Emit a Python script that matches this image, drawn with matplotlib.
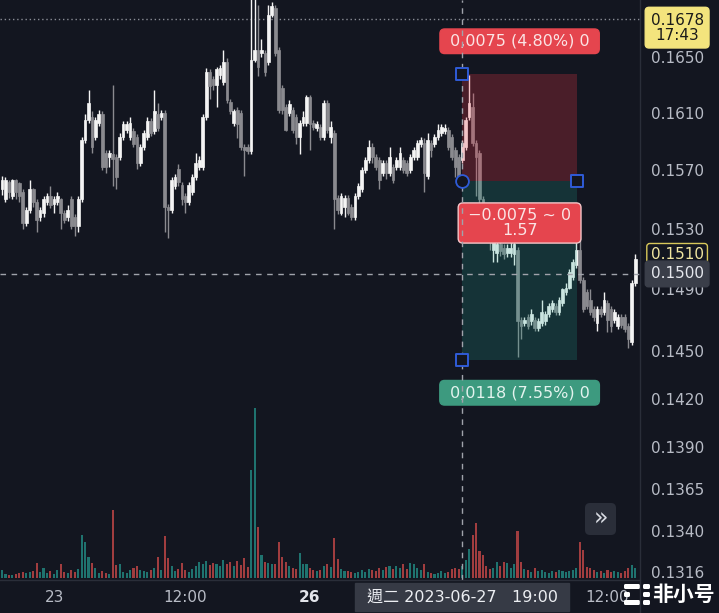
import matplotlib
matplotlib.use('Agg')
import matplotlib.pyplot as plt
from matplotlib.patches import FancyBboxPatch
from matplotlib.lines import Line2D
from matplotlib.markers import MarkerStyle
from matplotlib.ticker import FixedLocator, FixedFormatter, NullLocator, NullFormatter
from matplotlib.colors import to_rgba
import numpy as np

plt.rcParams['font.family'] = ['DejaVu Sans', 'Noto Sans CJK TC']

# ---- hourly OHLC ----
opens = [
    .1557, .1550, .1562, .1552, .1563, .1561, .1555, .1534, .1543, .1557,
    .1548, .1538, .1541, .1548, .1552, .1547, .1548, .1550, .1541, .1538,
    .1550, .1538, .1532, .1550, .1591, .1605, .1607, .1593, .1603, .1609,
    .1582, .1579, .1581, .1579, .1579, .1593, .1598, .1593, .1597, .1593,
    .1575, .1586, .1593, .1604, .1597, .1609, .1607, .1610, .1545, .1543,
    .1559, .1571, .1560, .1552, .1548, .1555, .1565, .1572, .1572, .1607,
    .1639, .1634, .1630, .1637, .1632, .1646, .1618, .1603, .1612, .1610,
    .1586, .1586, .1583, .1648, .1655, .1653, .1653, .1646, .1681, .1686,
    .1655, .1628, .1614, .1610, .1612, .1607, .1593, .1603, .1603, .1621,
    .1603, .1599, .1600, .1593, .1617, .1593, .1596, .1551, .1541, .1545,
    .1551, .1545, .1538, .1552, .1557, .1570, .1577, .1586, .1579, .1577,
    .1568, .1575, .1568, .1572, .1572, .1572, .1577, .1575, .1570, .1579,
    .1579, .1588, .1589, .1566, .1589, .1588, .1593, .1596, .1597, .1598,
    .1593, .1584, .1579, .1577, .1586, .1607, .1614, .1589, .1582, .1550,
    .1541, .1531, .1516, .1514, .1520, .1517, .1514, .1514, .1513, .1516,
    .1470, .1468, .1472, .1469, .1470, .1465, .1468, .1469, .1474, .1477,
    .1479, .1475, .1481, .1488, .1491, .1498, .1506, .1516, .1496, .1488,
    .1483, .1477, .1468, .1477, .1475, .1481, .1477, .1470, .1466, .1472,
    .1472, .1466, .1456, .1494]
highs = [
    .1566, .1565, .1563, .1564, .1564, .1562, .1557, .1545, .1563, .1558,
    .1550, .1545, .1552, .1554, .1559, .1552, .1555, .1551, .1543, .1546,
    .1552, .1540, .1552, .1593, .1609, .1626, .1611, .1607, .1612, .1611,
    .1584, .1584, .1630, .1581, .1596, .1604, .1604, .1607, .1599, .1595,
    .1588, .1598, .1607, .1606, .1626, .1617, .1612, .1612, .1547, .1565,
    .1567, .1574, .1562, .1554, .1562, .1567, .1582, .1580, .1609, .1642,
    .1641, .1636, .1643, .1644, .1655, .1649, .1620, .1613, .1614, .1612,
    .1588, .1588, .1702, .1698, .1688, .1663, .1655, .1688, .1690, .1688,
    .1657, .1630, .1616, .1619, .1614, .1609, .1605, .1611, .1623, .1623,
    .1605, .1604, .1602, .1619, .1619, .1604, .1598, .1553, .1554, .1553,
    .1553, .1547, .1554, .1561, .1572, .1579, .1591, .1589, .1581, .1579,
    .1577, .1577, .1586, .1574, .1579, .1586, .1579, .1577, .1581, .1586,
    .1591, .1593, .1592, .1596, .1591, .1595, .1602, .1602, .1602, .1600,
    .1595, .1586, .1581, .1591, .1607, .1637, .1624, .1591, .1584, .1552,
    .1543, .1533, .1523, .1523, .1522, .1520, .1520, .1521, .1522, .1518,
    .1472, .1472, .1474, .1477, .1472, .1471, .1483, .1476, .1481, .1483,
    .1481, .1485, .1491, .1494, .1503, .1510, .1523, .1524, .1498, .1490,
    .1490, .1479, .1479, .1479, .1488, .1483, .1479, .1477, .1474, .1474,
    .1474, .1468, .1496, .1513]
lows = [
    .1553, .1548, .1551, .1550, .1550, .1548, .1530, .1532, .1541, .1545,
    .1528, .1535, .1538, .1546, .1544, .1541, .1546, .1530, .1534, .1535,
    .1530, .1525, .1528, .1548, .1589, .1603, .1582, .1591, .1601, .1570,
    .1568, .1572, .1559, .1557, .1577, .1591, .1596, .1591, .1586, .1571,
    .1573, .1584, .1591, .1594, .1595, .1597, .1605, .1528, .1524, .1541,
    .1557, .1559, .1546, .1541, .1546, .1553, .1563, .1570, .1570, .1605,
    .1620, .1626, .1614, .1634, .1630, .1617, .1609, .1601, .1592, .1584,
    .1566, .1581, .1581, .1646, .1636, .1650, .1636, .1644, .1679, .1651,
    .1610, .1609, .1597, .1608, .1596, .1588, .1581, .1601, .1601, .1584,
    .1598, .1597, .1591, .1591, .1596, .1589, .1530, .1540, .1539, .1538,
    .1539, .1536, .1536, .1550, .1555, .1568, .1575, .1575, .1570, .1557,
    .1566, .1564, .1566, .1561, .1570, .1570, .1568, .1566, .1568, .1577,
    .1577, .1586, .1555, .1564, .1579, .1586, .1591, .1594, .1595, .1584,
    .1577, .1565, .1563, .1575, .1584, .1605, .1587, .1552, .1546, .1535,
    .1526, .1516, .1508, .1508, .1512, .1510, .1511, .1511, .1506, .1446,
    .1458, .1466, .1464, .1467, .1463, .1463, .1466, .1467, .1472, .1475,
    .1473, .1473, .1479, .1486, .1490, .1496, .1504, .1494, .1475, .1477,
    .1473, .1469, .1463, .1472, .1473, .1462, .1462, .1468, .1464, .1465,
    .1462, .1452, .1454, .1492]
closes = [
    .1563, .1563, .1555, .1563, .1555, .1552, .1534, .1543, .1557, .1548,
    .1536, .1543, .1550, .1552, .1546, .1550, .1552, .1541, .1536, .1543,
    .1532, .1532, .1550, .1591, .1605, .1617, .1586, .1605, .1609, .1572,
    .1572, .1582, .1578, .1565, .1593, .1602, .1602, .1603, .1588, .1575,
    .1586, .1596, .1604, .1596, .1611, .1599, .1610, .1545, .1543, .1563,
    .1565, .1562, .1550, .1548, .1560, .1565, .1575, .1577, .1607, .1639,
    .1629, .1630, .1641, .1642, .1646, .1619, .1611, .1611, .1602, .1586,
    .1584, .1583, .1648, .1655, .1643, .1655, .1639, .1681, .1687, .1653,
    .1612, .1612, .1598, .1616, .1598, .1593, .1603, .1607, .1621, .1602,
    .1600, .1602, .1593, .1617, .1598, .1600, .1550, .1543, .1552, .1551,
    .1541, .1538, .1552, .1559, .1570, .1577, .1586, .1579, .1572, .1563,
    .1575, .1568, .1579, .1563, .1577, .1582, .1570, .1568, .1579, .1584,
    .1589, .1591, .1568, .1591, .1584, .1593, .1598, .1600, .1599, .1586,
    .1579, .1572, .1565, .1589, .1605, .1617, .1589, .1579, .1550, .1540,
    .1531, .1521, .1521, .1520, .1515, .1513, .1517, .1517, .1520, .1469,
    .1466, .1470, .1466, .1474, .1465, .1469, .1475, .1474, .1479, .1481,
    .1475, .1483, .1490, .1491, .1501, .1508, .1516, .1496, .1477, .1479,
    .1475, .1472, .1477, .1474, .1483, .1470, .1466, .1475, .1472, .1467,
    .1464, .1458, .1494, .1510]
# volume, in thousands
volume = [
    8, 4, 3, 3, 4, 5, 6, 5, 6, 7,
    15, 6, 10, 5, 7, 4, 8, 14, 6, 5,
    8, 6, 9, 43, 36, 21, 15, 10, 5, 7,
    5, 4, 68, 13, 14, 6, 5, 8, 10, 12,
    8, 7, 6, 8, 10, 21, 8, 42, 20, 12,
    7, 9, 15, 8, 6, 9, 12, 16, 14, 17,
    13, 15, 14, 12, 18, 14, 16, 12, 17, 13,
    20, 11, 108, 170, 51, 23, 16, 15, 14, 14,
    36, 21, 16, 12, 10, 9, 25, 14, 14, 10,
    8, 7, 8, 12, 14, 11, 40, 19, 9, 7,
    7, 6, 5, 6, 8, 6, 9, 8, 7, 10,
    8, 11, 12, 9, 12, 10, 14, 9, 15, 14,
    10, 8, 14, 6, 5, 4, 5, 7, 5, 6,
    9, 10, 9, 12, 18, 29, 43, 55, 27, 23,
    12, 9, 10, 16, 12, 16, 15, 10, 14, 47,
    16, 9, 8, 6, 10, 7, 8, 6, 5, 7,
    6, 8, 7, 6, 7, 8, 10, 36, 28, 11,
    10, 8, 6, 7, 5, 8, 6, 7, 6, 5,
    7, 10, 13, 10]

price_ticks = [0.1650, 0.1610, 0.1570, 0.1530, 0.1490, 0.1450, 0.1420,
               0.1390, 0.1365, 0.1340, 0.1316]
time_pos = [15.3, 52.9, 89, 175]
time_labels = ['23', '12:00', '26', '12:00']

# short position tool
entry, stop, target = 0.15625, 0.16375, 0.14445
pos_start, pos_end = 133, 166.2
cursor_bar, cursor_price = 133, 0.1500
alert_price, last_price = 0.1678, 0.1510

bg = '#131620'
grid_c = '#2a2e39'
txt_c = '#b8bcc6'

o = np.array(opens); h = np.array(highs); l = np.array(lows); c = np.array(closes)
idx = np.arange(len(c))
up = c >= o
candle_col = np.where(up, '#f4f4f4', '#8a8a8f')
vol_col = [to_rgba('#26a69a', 0.65) if u else to_rgba('#ef5350', 0.65) for u in up]

W, H = 719, 613
fig = plt.figure(figsize=(W / 100, H / 100), dpi=100, facecolor=bg)
rect = [0, 33 / H, 640 / W, 580 / H]
vax = fig.add_axes(rect)
ax = fig.add_axes(rect, sharex=vax)
vax.set_facecolor(bg)
ax.patch.set_alpha(0)
for a in (ax, vax):
    for s in a.spines.values():
        s.set_visible(False)

# volume
vax.bar(idx, volume, width=0.6, color=vol_col, linewidth=0)
vax.set_ylim(-2, 578)
vax.set_yticks([])

# candles
ax.vlines(idx, l, h, colors=candle_col, linewidth=1.0, zorder=2)
ax.bar(idx, np.abs(c - o), bottom=np.minimum(o, c), width=0.8,
       color=candle_col, edgecolor=candle_col, linewidth=0.5, zorder=2)

ax.set_yscale('log')
ax.set_ylim(0.13113, 0.16918)
ax.set_xlim(-0.58, 184.4)
ax.yaxis.set_major_locator(FixedLocator(price_ticks))
ax.yaxis.set_major_formatter(FixedFormatter(['%.4f' % t for t in price_ticks]))
ax.yaxis.set_minor_locator(NullLocator())
ax.yaxis.set_minor_formatter(NullFormatter())
ax.yaxis.tick_right()
ax.tick_params(axis='y', which='both', length=0, pad=8, labelsize=11, labelcolor=txt_c)
ax.set_xticks([])

# alert line
ax.axhline(alert_price, color='#8a8d96', ls=(0, (1, 2)), lw=1, zorder=1)

# position tool zones
ax.fill_between([pos_start, pos_end], entry, stop, color='#f23645', alpha=0.25, lw=0, zorder=4)
ax.fill_between([pos_start, pos_end], target, entry, color='#22ab94', alpha=0.2, lw=0, zorder=4)
mid = (pos_start + pos_end) / 2


def tag(y, text, dy, fc, ec, tc):
    ax.annotate(text, xy=(mid, y), xytext=(0, dy), textcoords='offset pixels',
                ha='center', va='center', fontsize=11.5, color=tc, zorder=6,
                linespacing=1.05, annotation_clip=False,
                bbox=dict(boxstyle='round,pad=0.3,rounding_size=0.3', fc=fc, ec=ec, lw=1))


tag(stop, ' 0,0075 (4.80%) 0 ', 33, '#e5454e', '#e5454e', '#fbe3e4')
tag(entry, ' \u22120.0075 ~ 0 \n1.57', -42, '#e5454e', '#f3c4c7', '#fbe3e4')
tag(target, ' 0,0118 (7.55%) 0 ', -33, '#3d9a7f', '#3d9a7f', '#e3f3ee')

# crosshair
ax.axvline(cursor_bar, color='#a0a3ab', ls=(0, (4, 4)), lw=1, zorder=8)
ax.axhline(cursor_price, color='#a0a3ab', ls=(0, (4, 4)), lw=1, zorder=8)

# handles
sq = MarkerStyle('s', joinstyle='round')
ax.scatter([pos_start, pos_end, pos_start], [stop, entry, target], marker=sq, s=70,
           facecolor=bg, edgecolor='#2f5bd8', lw=1.4, zorder=9)
ax.scatter([pos_start], [entry], marker='o', s=85, facecolor=bg, edgecolor='#2f5bd8', lw=1.3, zorder=9)

# price-axis boxes
yt = ax.get_yaxis_transform()
ax.annotate('0.1510', xy=(1.058, last_price), xycoords=yt, xytext=(0, 4), textcoords='offset pixels',
            ha='center', va='center', fontsize=11, color='#f1e6a0', zorder=6, annotation_clip=False,
            bbox=dict(boxstyle='round,pad=0.25,rounding_size=0.2', fc=bg, ec='#d8c85a', lw=1))
ax.annotate('0.1500', xy=(1.058, cursor_price), xycoords=yt,
            ha='center', va='center', fontsize=11, color='#e6e8ee', zorder=7, annotation_clip=False,
            bbox=dict(boxstyle='round,pad=0.35,rounding_size=0.2', fc='#3a3e49', ec='#3a3e49'))
ax.annotate('0.1678\n17:43', xy=(1.058, alert_price), xycoords=yt, xytext=(0, -9),
            textcoords='offset pixels', ha='center', va='center', fontsize=11,
            color='#1a1a1a', zorder=7, linespacing=1.0, annotation_clip=False,
            bbox=dict(boxstyle='round,pad=0.35,rounding_size=0.25', fc='#f3e47d', ec='#f3e47d'))

# time axis
xt = ax.get_xaxis_transform()
for p, s in zip(time_pos, time_labels):
    ax.text(p, -18 / 580, s, transform=xt, ha='center', va='center', fontsize=11,
            color='#e2e4ea' if s == '26' else txt_c,
            fontweight='bold' if s == '26' else 'normal')
ax.text(cursor_bar, -17 / 580, ' 週二 2023-06-27   19:00 ', transform=xt, ha='center', va='center',
        fontsize=11.5, color='#eceef2', zorder=9,
        bbox=dict(boxstyle='square,pad=0.4', fc='#363a45', ec='#363a45'))

# panel separators
fig.add_artist(Line2D([640 / W, 640 / W], [0, 1], transform=fig.transFigure, color=grid_c, lw=1))
fig.add_artist(Line2D([0, 640 / W], [33 / H, 33 / H], transform=fig.transFigure, color=grid_c, lw=1))

# scroll button
ins = fig.dpi_scale_trans
fig.add_artist(FancyBboxPatch((5.85, (H - 535) / 100), 0.31, 0.32,
                              boxstyle='round,pad=0,rounding_size=0.05',
                              transform=ins, fc='#2a2e39', ec='none'))
fig.text(6.005, (H - 519) / 100, '»', transform=ins, ha='center', va='center',
         fontsize=17, color='#d8dbe2')

# watermark
for x0, y0, w in [(624, 584, 16), (643, 584, 7), (624, 592, 6), (643, 592, 7), (624, 600, 16), (643, 600, 7)]:
    fig.add_artist(FancyBboxPatch((x0 / 100, (H - y0 - 5) / 100), w / 100, 0.05,
                                  boxstyle='round,pad=0,rounding_size=0.015',
                                  transform=ins, fc='white', ec='none'))
fig.text(6.83, (H - 594) / 100, '非小号', transform=ins, ha='center', va='center',
         fontsize=15, color='white', fontweight='bold', family=['Noto Sans CJK SC'])

fig.savefig('out.png', dpi=100, facecolor=bg)
